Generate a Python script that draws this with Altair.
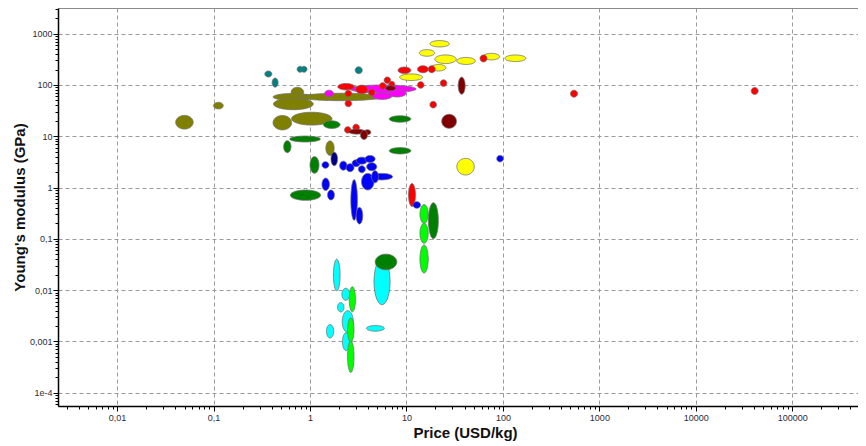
import altair as alt
import numpy as np
import pandas as pd

# Each ellipse: (price_lo, price_hi, E_lo, E_hi)  -- price in USD/kg, E in GPa
OLIVE = [
    (0.0405, 0.0615, 13.8, 25.5),
    (0.100, 0.126, 34.1, 45.8),
    (0.637, 0.859, 57.7, 90.2),
    (0.414, 1.07, 49.9, 68.2),
    (0.789, 5.58, 49.4, 68.9),
    (0.418, 1.08, 32.9, 55.3),
    (0.414, 0.645, 13.3, 25.4),
    (0.643, 1.69, 16.5, 29.4),
    (1.46, 1.78, 4.23, 8.13),
]
CYAN = [
    (1.75, 2.05, 0.00973, 0.0402),
    (2.14, 2.58, 0.00635, 0.0109),
    (1.93, 2.25, 0.00376, 0.00574),
    (2.16, 2.81, 0.00149, 0.00398),
    (1.48, 1.76, 0.00117, 0.00214),
    (2.17, 2.58, 0.000662, 0.00148),
    (3.85, 5.90, 0.00159, 0.00205),
    (4.61, 6.76, 0.00522, 0.0411),
]
LIME = [
    (13.8, 16.8, 0.200, 0.468),
    (13.8, 16.8, 0.0820, 0.201),
    (13.8, 16.8, 0.0216, 0.0760),
    (2.55, 2.96, 0.00379, 0.0117),
    (2.45, 2.86, 0.000977, 0.00287),
    (2.45, 2.86, 0.000249, 0.00103),
]
GREEN = [
    (0.617, 1.28, 7.74, 10.1),
    (0.533, 0.635, 4.79, 8.20),
    (1.00, 1.24, 1.90, 4.01),
    (0.625, 1.29, 0.564, 0.897),
    (1.38, 2.05, 14.2, 20.0),
    (6.64, 11.1, 18.8, 25.1),
    (6.64, 11.1, 4.52, 6.01),
    (16.9, 21.4, 0.101, 0.508),
    (4.74, 7.94, 0.0250, 0.0504),
]
YELLOW = [
    (17.5, 27.8, 551, 733),
    (13.6, 19.6, 363, 488),
    (19.7, 32.8, 261, 385),
    (33.3, 51.8, 251, 344),
    (62.2, 92.5, 308, 413),
    (105, 173, 286, 384),
    (18.1, 25.6, 187, 251),
    (8.49, 14.7, 122, 164),
    (33.3, 50.5, 1.76, 3.71),
]
MAGENTA = [
    (1.42, 1.75, 58.9, 79.1),
    (2.60, 12.6, 69.8, 100),
    (4.40, 7.10, 52.2, 71.4),
    (6.44, 9.89, 58.3, 81.3),
]
RED = [
    (8.18, 11.1, 167, 224),
    (13.0, 16.9, 173, 237),
    (16.8, 19.9, 173, 237),
    (57.9, 68.4, 281, 385),
    (502, 593, 57.8, 79.1),
    (37500, 44300, 65.3, 89.3),
    (22.4, 26.2, 93.5, 126),
    (13.0, 15.2, 86.3, 116),
    (17.5, 20.5, 35.6, 47.9),
    (1.94, 2.88, 80.0, 107),
    (2.98, 3.97, 67.3, 99.1),
    (2.31, 2.70, 58.9, 79.1),
    (2.31, 2.70, 37.6, 50.5),
    (4.04, 4.72, 61.7, 82.8),
    (5.25, 6.14, 82.6, 111),
    (5.86, 6.85, 107, 143),
    (6.56, 7.57, 90.4, 118),
    (2.28, 2.66, 11.5, 15.4),
    (2.78, 3.25, 12.8, 17.2),
    (10.5, 12.4, 0.429, 1.20),
]
MAROON = [
    (34.4, 40.6, 66.1, 142),
    (23.2, 33.0, 14.3, 26.8),
    (2.52, 3.70, 11.0, 13.8),
    (3.62, 4.27, 10.7, 13.4),
    (3.34, 3.94, 8.65, 13.0),
    (6.07, 7.71, 77.1, 96.6),
]
BLUE = [
    (1.33, 1.57, 2.38, 3.20),
    (2.03, 2.42, 2.18, 3.27),
    (2.37, 2.86, 2.04, 2.92),
    (2.73, 3.30, 2.55, 3.48),
    (3.03, 3.91, 2.86, 3.91),
    (3.72, 4.73, 3.09, 4.23),
    (3.87, 4.92, 2.13, 3.05),
    (3.17, 3.74, 1.95, 2.66),
    (3.42, 4.61, 0.898, 1.89),
    (4.29, 7.18, 1.41, 1.89),
    (4.35, 5.13, 1.24, 2.13),
    (1.33, 1.59, 0.877, 1.53),
    (1.52, 1.79, 0.574, 0.898),
    (2.65, 3.10, 0.230, 1.43),
    (3.01, 3.52, 0.195, 0.411),
    (11.7, 14.0, 0.395, 0.531),
    (86.3, 101, 3.16, 4.24),
]
NAVY = [
    (1.65, 1.93, 2.67, 4.89),
]
TEAL = [
    (0.340, 0.402, 143, 187),
    (0.405, 0.467, 90.6, 136),
    (0.735, 0.847, 177, 231),
    (0.807, 0.931, 177, 231),
    (2.94, 3.48, 166, 226),
]

GROUPS = [
    ("olive", "#808000", OLIVE),
    ("cyan", "#00ffff", CYAN),
    ("lime", "#00ff00", LIME),
    ("green", "#008000", GREEN),
    ("yellow", "#ffff00", YELLOW),
    ("magenta", "#ff00ff", MAGENTA),
    ("red", "#ff0000", RED),
    ("maroon", "#800000", MAROON),
    ("blue", "#0000ff", BLUE),
    ("navy", "#000080", NAVY),
    ("teal", "#008080", TEAL),
]

X_TICKS = [0.01, 0.1, 1, 10, 100, 1000, 10000, 100000]
Y_TICKS = [0.0001, 0.001, 0.01, 0.1, 1, 10, 100, 1000]
X_DOMAIN = [0.00244, 480000]
Y_DOMAIN = [5.53e-5, 3162]

def minor(lo, hi):
    out = []
    for e in range(-6, 7):
        for k in range(2, 10):
            v = k * 10.0 ** e
            if lo <= v <= hi:
                out.append(float(f"{v:.6g}"))
    return out

X_MINOR = minor(*X_DOMAIN)
Y_MINOR = minor(*Y_DOMAIN)

# outline of each ellipse in log-log space (drawn through the log scales)
t = np.linspace(0, np.pi, 41)
def outline(rows, name):
    recs = []
    for i, (plo, phi, elo, ehi) in enumerate(rows):
        cx, rx = (np.log10(plo) + np.log10(phi)) / 2, (np.log10(phi) - np.log10(plo)) / 2
        cy, ry = (np.log10(elo) + np.log10(ehi)) / 2, (np.log10(ehi) - np.log10(elo)) / 2
        for tt in t:
            recs.append({
                "id": f"{name}{i:02d}",
                "x": 10 ** (cx + rx * np.cos(tt)),
                "y1": 10 ** (cy + ry * np.sin(tt)),
                "y2": 10 ** (cy - ry * np.sin(tt)),
            })
    return pd.DataFrame(recs)

FONT = "Liberation Sans"
LABEL_COLOR = "#2b2b3a"
xscale = alt.Scale(type="log", domain=X_DOMAIN, nice=False)
yscale = alt.Scale(type="log", domain=Y_DOMAIN, nice=False)

xlab = "replace(toString(datum.value), '.', ',')"
ylab = "datum.value < 0.0005 ? '1e-4' : replace(toString(datum.value), '.', ',')"

main_x = alt.Axis(values=X_TICKS, orient="bottom", grid=True, gridDash=[4, 3], gridColor="#9a9a9a",
                  gridWidth=1, tickSize=5, tickColor="#000", domainColor="#000", domainWidth=1.5,
                  labelExpr=xlab, labelFont=FONT, labelFontSize=9, labelColor=LABEL_COLOR,
                  labelPadding=2, labelFlush=False, labelOverlap=False,
                  title="Price (USD/kg)", titleFont=FONT, titleFontSize=15, titleFontWeight="bold",
                  titleColor="#111", titleX=407, titleY=19, titleBaseline="top")
main_y = alt.Axis(values=Y_TICKS, orient="left", grid=True, gridDash=[4, 3], gridColor="#9a9a9a",
                  gridWidth=1, tickSize=5, tickColor="#000", domainColor="#000", domainWidth=1.5,
                  labelExpr=ylab, labelFont=FONT, labelFontSize=9, labelColor=LABEL_COLOR,
                  labelPadding=1, labelFlush=False, labelOverlap=False,
                  title="Young's modulus (GPa)", titleFont=FONT, titleFontSize=15,
                  titleFontWeight="bold", titleColor="#111", titleX=-31, titleY=199,
                  titleAngle=270, titleAlign="center", titleBaseline="bottom")
minor_x = alt.Axis(values=X_MINOR, orient="bottom", grid=False, labels=False, domain=False,
                   tickSize=3, tickColor="#000", title=None)
minor_y = alt.Axis(values=Y_MINOR, orient="left", grid=False, labels=False, domain=False,
                   tickSize=3, tickColor="#000", title=None)
top_x = alt.Axis(orient="top", grid=False, labels=False, ticks=False, domain=True,
                 domainColor="#8a8a8a", domainWidth=1.2, title=None)

layers = []
for gi, (name, color, rows) in enumerate(GROUPS):
    ay = None
    if gi == 0:
        ax, ay = main_x, main_y
    elif gi == 1:
        ax, ay = minor_x, minor_y
    elif gi == 2:
        ax = top_x
    else:
        ax = None
    layer = alt.Chart(outline(rows, name)).mark_area(
        fill=color, fillOpacity=1, stroke="#707070", strokeWidth=0.8, clip=True
    ).encode(
        x=alt.X("x:Q", scale=xscale, axis=ax),
        y=alt.Y("y1:Q", scale=yscale, axis=ay, stack=None),
        y2="y2:Q",
        detail="id:N",
    )
    layers.append(layer)

chart = alt.layer(*layers).resolve_axis(x="independent", y="independent").properties(
    width=800, height=398,
    autosize=alt.AutoSizeParams(type="none"),
    padding={"left": 50, "top": 0, "right": 0, "bottom": 40},
    background="white",
).configure_view(stroke=None)

chart.save("out.html", embed_options={"renderer": "svg", "actions": False})
